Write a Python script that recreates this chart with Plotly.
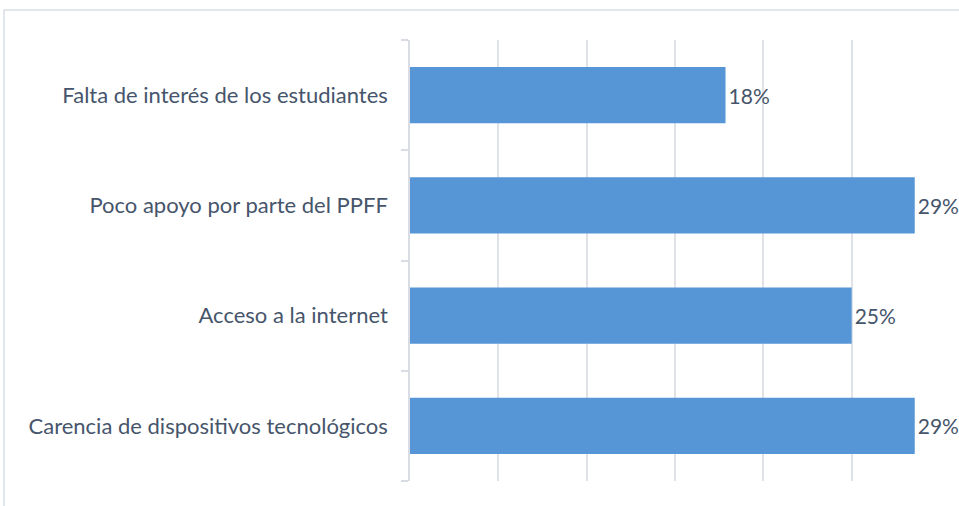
import plotly.graph_objects as go

categories = ["Carencia de dispositivos tecnológicos", "Acceso a la internet",
              "Poco apoyo por parte del PPFF", "Falta de interés de los estudiantes"]
values = [0.2857, 0.25, 0.2857, 0.1786]
labels = ["29%", "25%", "29%", "18%"]

W, H = 959, 506
L, R, T, B = 410, 940, 40, 481
FONT = "Lato"
FS = 22
TXT = "#46556b"

fig = go.Figure()
fig.add_trace(go.Bar(
    y=categories, x=values, orientation="h",
    marker=dict(color="#5696d6", line=dict(width=0)),
    text=labels, textposition="outside", cliponaxis=False,
    textfont=dict(family=FONT, size=FS - 1, color=TXT),
    width=0.51,
))

pw, ph = R - L, B - T
fig.add_shape(type="rect", xref="paper", yref="paper",
              x0=(4 - L) / pw, x1=(975 - L) / pw,
              y0=(B - 520) / ph, y1=(B - 10) / ph,
              line=dict(color="#d9dde3", width=1.5), layer="below")

fig.update_layout(
    width=W, height=H,
    margin=dict(l=L, r=W - R, t=T, b=H - B),
    plot_bgcolor="white", paper_bgcolor="white",
    showlegend=False,
    font=dict(family=FONT, size=FS, color=TXT),
    xaxis=dict(range=[0, 0.30], dtick=0.05, showticklabels=False,
               showgrid=True, gridcolor="#dfe3e8", gridwidth=1.5,
               zeroline=False, showline=False),
    yaxis=dict(type="category", showline=True, linecolor="#d9dde3", linewidth=1.5,
               ticks="outside", tickson="boundaries", ticklen=7, tickcolor="#d9dde3",
               tickwidth=1.5, ticklabelstandoff=16, showgrid=False,
               tickfont=dict(family=FONT, size=FS, color=TXT),
               automargin=False),
)

fig.write_html("out.html", config={"displayModeBar": False},
               post_script="document.body.style.margin='0';document.body.style.overflow='hidden';")
